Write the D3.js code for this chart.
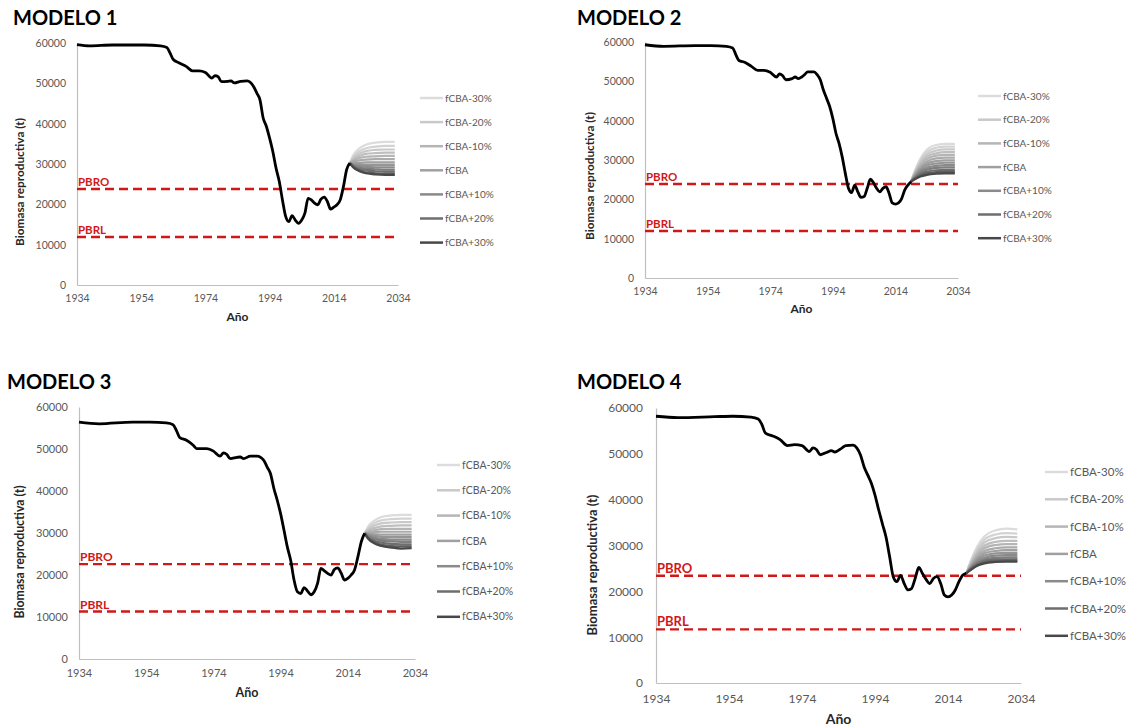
<!DOCTYPE html>
<html>
<head>
<meta charset="utf-8">
<script src="https://cdn.jsdelivr.net/npm/d3@7"></script>
<style>
  html, body { margin: 0; padding: 0; background: #ffffff; }
  svg { display: block; font-family: Lato, "Open Sans", sans-serif; }
</style>
</head>
<body>
<svg id="chart" width="1131" height="727"></svg>
<script>
// ---- Data -------------------------------------------------------------
const xTicks = [1934, 1954, 1974, 1994, 2014, 2034];
const yTicks = [0, 10000, 20000, 30000, 40000, 50000, 60000];

const scenarioNames = ["fCBA-30%", "fCBA-25%", "fCBA-20%", "fCBA-15%", "fCBA-10%", "fCBA-5%", "fCBA",
                       "fCBA+5%", "fCBA+10%", "fCBA+15%", "fCBA+20%", "fCBA+25%", "fCBA+30%"];
const legendNames = ["fCBA-30%", "fCBA-20%", "fCBA-10%", "fCBA", "fCBA+10%", "fCBA+20%", "fCBA+30%"];
const scenarioColors = ["#dcdcdc", "#d3d3d3", "#c9c9c9", "#bfbfbf", "#b5b5b5", "#ababab", "#a0a0a0",
                        "#959595", "#8a8a8a", "#7e7e7e", "#6e6e6e", "#5e5e5e", "#484848"];
const projYears = [2019, 2020, 2022, 2024, 2027, 2030, 2033];

// Modelo 1
const years1 = [1934, 1938, 1945, 1955, 1960, 1962, 1963, 1964, 1966, 1968, 1970, 1972, 1974, 1976, 1977, 1978,
  1979, 1981, 1982, 1983, 1985, 1987, 1989, 1990, 1991, 1992, 1993, 1994, 1995, 1996, 1997, 1998, 1999, 2000,
  2001, 2002, 2003, 2004, 2005, 2006, 2007, 2008, 2009, 2010, 2011, 2012, 2013, 2014, 2015, 2016, 2017, 2018, 2019];
const biomass1 = [59600, 59300, 59500, 59500, 59300, 58900, 57500, 55900, 55000, 54200, 53100, 53100, 52700, 51300,
  51900, 51600, 50400, 50500, 50600, 50100, 50500, 50600, 49200, 47600, 45900, 41400, 39300, 36400, 33100, 29000,
  25700, 21100, 17000, 15700, 17200, 16100, 15300, 16100, 17800, 21500, 21100, 20300, 19900, 21300, 21800, 20700,
  18800, 19300, 19900, 21100, 24400, 28600, 30200];
const proj1 = [
  [30200, 32100, 33900, 34800, 35300, 35500, 35500],
  [30200, 31700, 33200, 33900, 34300, 34500, 34500],
  [30200, 31400, 32600, 33200, 33500, 33600, 33600],
  [30200, 31100, 32000, 32500, 32700, 32800, 32800],
  [30200, 30800, 31500, 31800, 31900, 32000, 32000],
  [30200, 30600, 30900, 31100, 31200, 31200, 31200],
  [30200, 30300, 30300, 30400, 30400, 30400, 30400],
  [30200, 30000, 29900, 29800, 29800, 29800, 29800],
  [30200, 29800, 29500, 29300, 29200, 29200, 29200],
  [30200, 29600, 29100, 28800, 28700, 28600, 28600],
  [30200, 29500, 28700, 28400, 28200, 28100, 28100],
  [30200, 29300, 28400, 27900, 27700, 27600, 27600],
  [30200, 29200, 28200, 27700, 27400, 27300, 27300]
];
const refPoints1 = [23800, 11900];

// Modelo 2
const years2 = [1934, 1940, 1950, 1955, 1960, 1962, 1963, 1964, 1966, 1968, 1970, 1972, 1974, 1976, 1977, 1978,
  1979, 1981, 1982, 1983, 1985, 1986, 1988, 1989, 1990, 1991, 1992, 1993, 1994, 1995, 1996, 1997, 1998, 1999,
  2000, 2001, 2002, 2003, 2004, 2005, 2006, 2007, 2008, 2009, 2010, 2011, 2012, 2013, 2014, 2015, 2016, 2017,
  2018, 2019];
const biomass2 = [59300, 58900, 59100, 59100, 58900, 58500, 56800, 55300, 54800, 53800, 52800, 52800, 52300, 51100,
  51900, 51400, 50400, 50700, 51100, 50700, 51700, 52400, 52400, 51700, 50400, 47800, 45700, 43600, 40600, 36800,
  34200, 30800, 26600, 22800, 21700, 23600, 21900, 20500, 20700, 22800, 25100, 24200, 22800, 21900, 22800, 23200,
  21500, 19100, 18800, 19100, 20200, 22400, 23600, 24500];
const proj2 = [
  [24500, 26800, 30400, 32600, 33800, 34100, 34100],
  [24500, 26600, 30000, 32000, 33100, 33400, 33400],
  [24500, 26500, 29600, 31400, 32400, 32700, 32700],
  [24500, 26300, 29100, 30800, 31700, 32000, 32000],
  [24500, 26100, 28700, 30200, 31100, 31300, 31300],
  [24500, 26000, 28300, 29600, 30400, 30600, 30600],
  [24500, 25800, 27900, 29100, 29700, 29900, 29900],
  [24500, 25700, 27500, 28600, 29100, 29300, 29300],
  [24500, 25500, 27100, 28000, 28500, 28700, 28700],
  [24500, 25400, 26800, 27500, 28000, 28100, 28100],
  [24500, 25200, 26400, 27000, 27400, 27500, 27500],
  [24500, 25100, 26000, 26600, 26900, 27000, 27000],
  [24500, 25000, 25800, 26200, 26500, 26600, 26600]
];
const refPoints2 = [23900, 11950];

// Modelo 3
const years3 = [1934, 1940, 1950, 1955, 1960, 1962, 1963, 1964, 1966, 1968, 1969, 1972, 1974, 1976, 1977, 1978,
  1979, 1981, 1982, 1983, 1985, 1987, 1989, 1990, 1991, 1992, 1993, 1994, 1995, 1996, 1997, 1998, 1999, 2000,
  2001, 2002, 2003, 2004, 2005, 2006, 2007, 2008, 2009, 2010, 2011, 2012, 2013, 2014, 2015, 2016, 2017, 2018, 2019];
const biomass3 = [56400, 56000, 56400, 56400, 56200, 55800, 54400, 52700, 52100, 50900, 50100, 50100, 49500, 48300,
  49100, 48700, 47700, 48000, 48100, 47700, 48300, 48300, 47300, 45700, 44100, 40600, 37800, 34600, 30700, 26700,
  23500, 18800, 16000, 15600, 17000, 16200, 15300, 16000, 18000, 21600, 21000, 20400, 20000, 21300, 21700, 20500,
  18800, 19200, 20000, 21200, 24300, 27900, 29900];
const proj3 = [
  [29900, 31500, 33000, 33800, 34200, 34300, 34300],
  [29900, 31100, 32400, 33000, 33300, 33400, 33400],
  [29900, 30800, 31800, 32300, 32500, 32600, 32600],
  [29900, 30600, 31200, 31600, 31700, 31800, 31800],
  [29900, 30300, 30700, 30900, 31000, 31000, 31000],
  [29900, 30000, 30200, 30300, 30300, 30300, 30300],
  [29900, 29800, 29700, 29600, 29600, 29600, 29600],
  [29900, 29600, 29300, 29100, 29000, 29000, 29000],
  [29900, 29400, 28900, 28600, 28400, 28400, 28400],
  [29900, 29200, 28500, 28200, 28000, 27900, 27900],
  [29900, 29000, 28100, 27700, 27400, 27300, 27300],
  [29900, 28800, 27800, 27200, 26900, 26800, 26800],
  [29900, 28700, 27500, 26900, 26500, 26300, 26400]
];
const refPoints3 = [22600, 11300];

// Modelo 4
const years4 = [1934, 1940, 1950, 1955, 1960, 1962, 1963, 1964, 1966, 1968, 1970, 1972, 1974, 1976, 1977, 1978,
  1979, 1981, 1982, 1983, 1985, 1986, 1988, 1989, 1990, 1991, 1992, 1993, 1994, 1995, 1996, 1997, 1998, 1999,
  2000, 2001, 2002, 2003, 2004, 2005, 2006, 2007, 2008, 2009, 2010, 2011, 2012, 2013, 2014, 2015, 2016, 2017,
  2018, 2019];
const biomass4 = [58200, 57900, 58100, 58200, 58000, 57600, 56400, 54500, 53900, 53100, 51800, 52000, 51800, 50500,
  51300, 50900, 49800, 50400, 50700, 50400, 51300, 51800, 51900, 51300, 49800, 47200, 45400, 43600, 41000, 37800,
  34800, 31900, 27600, 23200, 22100, 23500, 21700, 20300, 20600, 22800, 25200, 23900, 22600, 21700, 22800, 23200,
  21700, 19200, 18800, 19200, 20300, 22100, 23500, 23900];
const proj4 = [
  [23900, 26200, 29800, 32000, 33300, 33700, 33500],
  [23900, 26000, 29300, 31300, 32400, 32700, 32600],
  [23900, 25800, 28900, 30700, 31600, 31900, 31800],
  [23900, 25600, 28400, 30000, 30800, 31000, 31000],
  [23900, 25400, 28000, 29400, 30100, 30300, 30300],
  [23900, 25300, 27600, 28800, 29400, 29600, 29600],
  [23900, 25100, 27200, 28300, 28800, 29000, 29000],
  [23900, 25000, 26800, 27800, 28300, 28400, 28400],
  [23900, 24900, 26500, 27300, 27800, 27900, 27900],
  [23900, 24800, 26200, 26900, 27300, 27400, 27400],
  [23900, 24700, 25900, 26600, 26900, 27000, 27000],
  [23900, 24600, 25700, 26300, 26600, 26700, 26700],
  [23900, 24500, 25600, 26100, 26400, 26500, 26500]
];
const refPoints4 = [23400, 11700];

const refNames = ["PBRO", "PBRL"];
const panelTitles = ["MODELO 1", "MODELO 2", "MODELO 3", "MODELO 4"];

// ---- Layout of the four panels ---------------------------------------
const panels = [
  { title: panelTitles[0], years: years1, biomass: biomass1, proj: proj1, refs: refPoints1,
    titleX: 13, titleY: 25, left: 77, right: 398, top: 43, bottom: 285,
    tickFont: 10.5, yPad: 11, xPad: 10, legendFont: 10, yLabelFont: 11.8, xLabelFont: 12, refFont: 11.5,
    legendX: 420, legendY: 98, legendStep: 24.1, yLabelX: 20, yLabelY: 182, xLabelY: 317 },
  { title: panelTitles[1], years: years2, biomass: biomass2, proj: proj2, refs: refPoints2,
    titleX: 577, titleY: 25, left: 645, right: 958, top: 42, bottom: 278,
    tickFont: 10.5, yPad: 11, xPad: 10, legendFont: 10, yLabelFont: 11.8, xLabelFont: 12, refFont: 11.5,
    legendX: 978, legendY: 96, legendStep: 23.7, yLabelX: 590, yLabelY: 176, xLabelY: 309 },
  { title: panelTitles[2], years: years3, biomass: biomass3, proj: proj3, refs: refPoints3,
    titleX: 7, titleY: 389, left: 79, right: 415, top: 407, bottom: 659,
    tickFont: 11, yPad: 11, xPad: 10, legendFont: 10.5, yLabelFont: 12.3, xLabelFont: 12.5, refFont: 12,
    legendX: 437, legendY: 465, legendStep: 25.3, yLabelX: 20, yLabelY: 552, xLabelY: 693 },
  { title: panelTitles[3], years: years4, biomass: biomass4, proj: proj4, refs: refPoints4,
    titleX: 577, titleY: 389, left: 656, right: 1021, top: 408, bottom: 683,
    tickFont: 12, yPad: 13, xPad: 11, legendFont: 11.5, yLabelFont: 13, xLabelFont: 14, refFont: 13,
    legendX: 1045, legendY: 472, legendStep: 27.3, yLabelX: 592, yLabelY: 565, xLabelY: 719 }
];

const svg = d3.select("#chart");
const red = "#d01818";

panels.forEach(p => {
  const g = svg.append("g");
  const x = d3.scaleLinear().domain([1934, 2034]).range([p.left, p.right]);
  const y = d3.scaleLinear().domain([0, 60000]).range([p.bottom, p.top]);

  // panel title
  g.append("text").attr("x", p.titleX).attr("y", p.titleY)
    .attr("font-size", 20).attr("font-weight", 700).attr("fill", "#000")
    .text(p.title);

  // y axis
  const yAxis = g.append("g").attr("transform", `translate(${p.left},0)`)
    .call(d3.axisLeft(y).tickValues(yTicks).tickSize(0).tickPadding(p.yPad).tickFormat(d3.format("d")));
  yAxis.select(".domain").attr("stroke", "#bfbfbf").attr("stroke-width", 1.2);
  yAxis.selectAll("text").attr("font-size", p.tickFont).attr("fill", "#595959")
    .attr("font-family", "Lato, 'Open Sans', sans-serif");

  // x axis
  const xAxis = g.append("g").attr("transform", `translate(0,${p.bottom})`)
    .call(d3.axisBottom(x).tickValues(xTicks).tickSize(0).tickPadding(p.xPad).tickFormat(d3.format("d")));
  xAxis.select(".domain").attr("stroke", "#bfbfbf").attr("stroke-width", 1.2);
  xAxis.selectAll("text").attr("font-size", p.tickFont).attr("fill", "#595959")
    .attr("font-family", "Lato, 'Open Sans', sans-serif");

  // axis titles
  g.append("text")
    .attr("transform", `translate(${p.yLabelX},${p.yLabelY}) rotate(-90)`)
    .attr("text-anchor", "middle").attr("dy", "0.35em")
    .attr("font-size", p.yLabelFont).attr("font-weight", 700).attr("fill", "#262626")
    .text("Biomasa reproductiva (t)");
  g.append("text")
    .attr("x", (p.left + p.right) / 2).attr("y", p.xLabelY).attr("dy", "0.35em")
    .attr("text-anchor", "middle")
    .attr("font-size", p.xLabelFont).attr("font-weight", 700).attr("fill", "#262626")
    .text("Año");

  // reference points (dashed)
  p.refs.forEach((v, i) => {
    g.append("line")
      .attr("x1", x(1934)).attr("x2", x(2034)).attr("y1", y(v)).attr("y2", y(v))
      .attr("stroke", red).attr("stroke-width", 2.4).attr("stroke-dasharray", "9,5");
    g.append("text").attr("x", x(1934) + 1).attr("y", y(v) - 3)
      .attr("font-size", p.refFont).attr("font-weight", 700).attr("fill", red)
      .text(refNames[i]);
  });

  const line = d3.line().x(d => x(d[0])).y(d => y(d[1])).curve(d3.curveMonotoneX);

  // projection scenarios, lightest first
  p.proj.forEach((vals, i) => {
    g.append("path")
      .datum(projYears.map((yr, k) => [yr, vals[k]]))
      .attr("d", line).attr("fill", "none")
      .attr("stroke", scenarioColors[i]).attr("stroke-width", 2.2);
  });

  // historical trajectory
  g.append("path")
    .datum(p.years.map((yr, k) => [yr, p.biomass[k]]))
    .attr("d", line).attr("fill", "none")
    .attr("stroke", "#000").attr("stroke-width", 2.8).attr("stroke-linejoin", "round");

  // legend
  legendNames.forEach((name, i) => {
    const ly = p.legendY + i * p.legendStep;
    const ci = scenarioNames.indexOf(name);
    g.append("line").attr("x1", p.legendX).attr("x2", p.legendX + 23)
      .attr("y1", ly).attr("y2", ly)
      .attr("stroke", scenarioColors[ci]).attr("stroke-width", 2.5);
    g.append("text").attr("x", p.legendX + 25).attr("y", ly).attr("dy", "0.35em")
      .attr("font-size", p.legendFont).attr("fill", "#595959")
      .text(name);
  });
});
</script>
</body>
</html>
